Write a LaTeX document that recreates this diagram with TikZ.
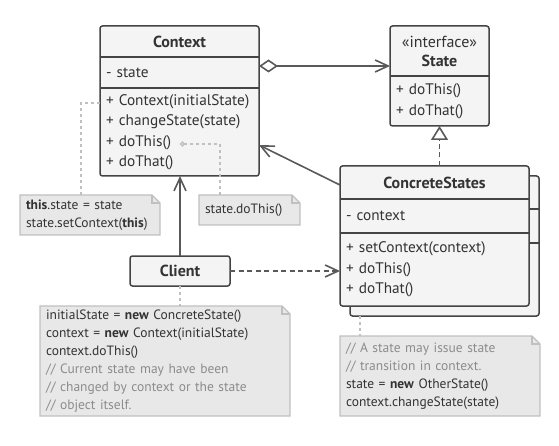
\documentclass[tikz,border=0pt]{standalone}
\usepackage{fontspec}
\setmainfont{PT Sans}
\usetikzlibrary{positioning,arrows.meta,backgrounds}
\definecolor{ink}{HTML}{333333}
\definecolor{edge}{HTML}{444444}
\definecolor{wire}{HTML}{595959}
\definecolor{boxfill}{HTML}{F4F4F4}
\definecolor{notefill}{HTML}{E8E8E8}
\definecolor{noteedge}{HTML}{C0C0C0}
\definecolor{comment}{HTML}{8C8C8C}
\newcommand\umlfont{\fontsize{15.3pt}{20.5pt}\selectfont\hyphenpenalty=10000\exhyphenpenalty=10000}
\newcommand\notefont{\fontsize{13.5pt}{17.9pt}\selectfont\hyphenpenalty=10000}
\newcommand\cmt[1]{\textcolor{comment}{#1}}
% folded note outline, drawn behind the note text
\newcommand\notedeco[1]{%
    \begin{scope}[on background layer]
        \filldraw[noteline] (#1.north west) -- ([xshift=-8pt]#1.north east) -- ([yshift=-8pt]#1.north east) -- (#1.south east) -- (#1.south west) -- cycle;
    \end{scope}
    \draw[noteline, fill=none] ([xshift=-8pt]#1.north east) |- ([yshift=-8pt]#1.north east);
}
\tikzset{
    classbox/.style={draw=edge, line width=1.5pt, fill=boxfill, rounded corners=2.5pt, inner sep=0pt, outer sep=0pt},
    head/.style 2 args={text width=#1, minimum height=#2, inner xsep=6pt, inner ysep=0pt, outer sep=0pt, align=center, text=ink, font=\fontsize{16pt}{19pt}\selectfont},
    compart/.style 2 args={text width=#1, minimum height=#2, inner xsep=6pt, inner ysep=0pt, outer sep=0pt, align=left, text=ink, font=\umlfont},
    sep/.style={draw=edge, line width=1.5pt},
    link/.style={draw=wire, line width=1.6pt},
    dashlink/.style={link, dash pattern=on 5pt off 3.5pt},
    barb/.style={-{Straight Barb[length=13pt,width=12pt]}},
    note/.style 2 args={text width=#1, minimum height=#2, inner xsep=6pt, inner ysep=0pt, outer sep=0pt, align=left, anchor=north west, text=ink, font=\notefont},
    noteline/.style={draw=noteedge, line width=1.3pt, fill=notefill},
    notelink/.style={draw=noteedge, line width=1.3pt, dash pattern=on 3pt off 3pt},
}
\begin{document}
\begin{tikzpicture}[x=1pt, y=-1pt]
\useasboundingbox (0,0) rectangle (559,446);

% Context
\node[classbox, minimum width=159pt, minimum height=150pt] (ctx) at (179.5,101) {};
\node[head={147pt}{31pt}, below=0pt of ctx.north] (ctxh) {\textbf{Context}};
\node[compart={147pt}{31pt}, below=0pt of ctxh] (ctxa) {- state};
\node[compart={147pt}{88pt}, below=0pt of ctxa] (ctxm) {+ Context(initialState)\\+ changeState(state)\\+ doThis()\\+ doThat()};
\draw[sep] (ctxa.north west) -- (ctxa.north east) (ctxm.north west) -- (ctxm.north east);

% State
\node[classbox, minimum width=99pt, minimum height=100pt] (st) at (439.5,76) {};
\node[head={87pt}{50pt}, below=0pt of st.north] (sth) {«interface»\\\textbf{State}};
\node[compart={87pt}{50pt}, below=0pt of sth] (stm) {+ doThis()\\+ doThat()};
\draw[sep] (stm.north west) -- (stm.north east);

% ConcreteStates (with the stacked copy behind)
\node[classbox, minimum width=189pt, minimum height=140pt] (csback) at (444.5,246) {};
\draw[sep] ([yshift=-33pt]csback.north west) -- ([yshift=-33pt]csback.north east)
           ([yshift=-67pt]csback.north west) -- ([yshift=-67pt]csback.north east);
\node[classbox, minimum width=189pt, minimum height=140pt] (cs) at (434.5,236) {};
\node[head={177pt}{33pt}, below=0pt of cs.north] (csh) {\textbf{ConcreteStates}};
\node[compart={177pt}{34pt}, below=0pt of csh] (csa) {- context};
\node[compart={177pt}{73pt}, below=0pt of csa] (csm) {+ setContext(context)\\+ doThis()\\+ doThat()};
\draw[sep] (csa.north west) -- (csa.north east) (csm.north west) -- (csm.north east);

% Client
\node[classbox, minimum width=100pt, minimum height=30pt, text=ink, font=\fontsize{16pt}{19pt}\selectfont\bfseries] (cl) at (180,271) {Client};

% relations
\draw[link, {Diamond[open,length=19pt,width=13pt]}-{Straight Barb[length=13pt,width=12pt]}] ([yshift=-9pt]ctxa.north east) -- ([yshift=-9pt]ctxa.north east -| st.west);
\draw[link, barb] ([yshift=-19pt]cs.north west) -- ([yshift=-13pt]ctxm.east);
\draw[dashlink, -{Triangle[open,length=14pt,width=17pt]}] (cs.north -| st.south) -- (st.south);
\draw[link, barb] (cl.north) -- (cl.north |- ctx.south);
\draw[dashlink, barb] (cl.east) -- (cl.east -| cs.west);

% notes
\node[note={128pt}{40pt}] (nt1) at (20,195) {\textbf{this}.state = state\\state.setContext(\textbf{this})};
\notedeco{nt1}
\node[note={89pt}{30pt}] (nt2) at (199,195) {state.doThis()};
\notedeco{nt2}
\node[note={238pt}{110pt}] (nt3) at (40,306) {initialState = \textbf{new} ConcreteState()\\context = \textbf{new} Context(initialState)\\context.doThis()\\\cmt{// Current state may have been}\\\cmt{// changed by context or the state}\\\cmt{// object itself.}};
\notedeco{nt3}
\node[note={188pt}{80pt}] (nt4) at (340,336) {\cmt{// A state may issue state}\\\cmt{// transition in context.}\\state = \textbf{new} OtherState()\\context.changeState(state)};
\notedeco{nt4}

\coordinate (dothis) at (180,144);
\draw[notelink] ([xshift=-9pt]nt1.north) |- ([yshift=-15pt]ctxm.north west);
\draw[notelink, {Circle[open,length=5pt,width=5pt]}-] (dothis) -| ([xshift=-29.5pt]nt2.north);
\draw[notelink] (cl.south) -- (cl.south |- nt3.north);
\draw[notelink] ([xshift=-80pt]nt4.north |- csback.south) -- ([xshift=-80pt]nt4.north);
\end{tikzpicture}
\end{document}
